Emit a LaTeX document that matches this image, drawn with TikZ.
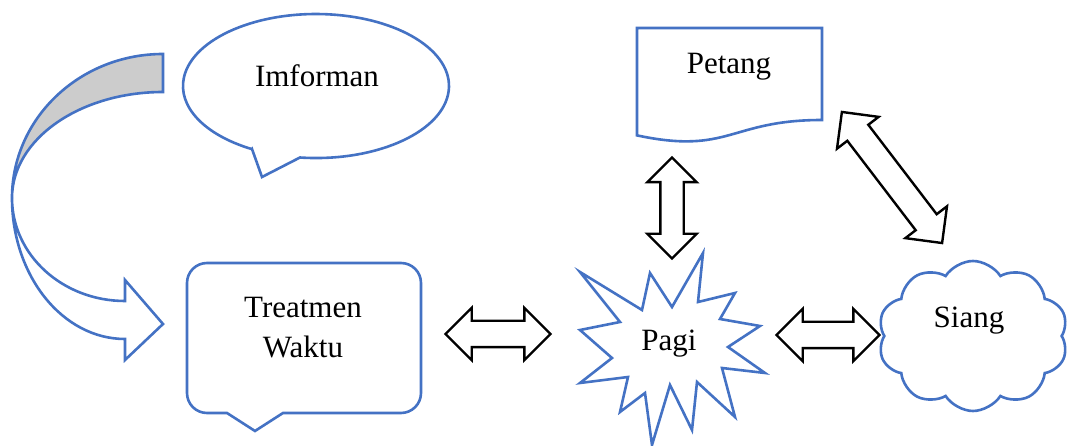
\documentclass[tikz,border=0pt]{standalone}
\usepackage{fontspec}
\setmainfont{Liberation Serif}
\usetikzlibrary{shapes.arrows,shapes.symbols}
\definecolor{wordblue}{HTML}{4472C4}

\begin{document}
\begin{tikzpicture}[x=1pt,y=-1pt,line join=miter]
	\tikzstyle{blob}=[draw=wordblue,line width=2.6pt,fill=white]
	\tikzstyle{dbl}=[double arrow,draw=black,line width=2.4pt,fill=white,inner xsep=0pt,minimum width=0pt,double arrow head extend=13pt]
	\tikzstyle{txt}=[font=\fontsize{31}{40}\selectfont,inner sep=0pt,align=center]
	\useasboundingbox (0,0) rectangle (1069,446);

	\draw[blob,fill=black!20] (163,54) arc[start angle=-90,end angle=-180,x radius=151,y radius=144]
		arc[start angle=180,end angle=270,x radius=151,y radius=106] -- cycle;
	\draw[blob] (12,198) arc[start angle=180,end angle=90,x radius=113,y radius=103]
		-- (125,280) -- (163,324) -- (125,360) -- (125,339)
		arc[start angle=90,end angle=180,x radius=113,y radius=141] -- cycle;

	\draw[blob] (252,149) -- (262,177) -- (300,157.5)
		arc[start angle=96.9,end angle=-241.2,x radius=133,y radius=72] -- cycle;
	\draw[blob] (227,413) -- (255,431) -- (283,413) -- (401,413) arc[start angle=90,end angle=0,radius=20]
		-- (421,283) arc[start angle=0,end angle=-90,radius=20]
		-- (207,263) arc[start angle=-90,end angle=-180,radius=20]
		-- (187,393) arc[start angle=180,end angle=90,radius=20] -- cycle;
	\draw[blob] (637,28) -- (822,28) -- (822,120) .. controls (729.5,120) and (729.5,155) .. (637,135.4) -- cycle;
	\draw[blob] (580,272) -- (642,310) -- (650,273) -- (672,307) -- (703,253) -- (698,302) -- (735,293)
		-- (720,319) -- (760,326) -- (728,347) -- (765,373) -- (722,368) -- (735,417) -- (697,382)
		-- (692,430) -- (670,385) -- (652,445) -- (645,393) -- (620,412) -- (628,377) -- (580,383)
		-- (612,358) -- (580,330) -- (620,322) -- cycle;
	\node[blob,cloud,cloud puffs=10,cloud puff arc=115,aspect=1.25,minimum width=190pt,minimum height=150pt,inner sep=0pt] (cloud) at (973,336) {};

	\foreach \name/\x/\y/\txt in {imforman/317/76/Imforman, treat/303/328/Treatmen\\Waktu, petang/729/67/Petang, pagi/669/344/Pagi, siang/969/321/Siang}
		\node[txt] (\name) at (\x,\y) {\txt};

	\foreach \name/\x/\y/\len/\sh/\ang in {tp/498/334/105/12/0, ps/828/335/103/12/0, vp/672/208/101/10.5/90, ds/892/177.5/165/12/-52.6}
		\node[dbl,minimum height=\len pt,inner ysep=\sh pt,rotate=\ang] (\name) at (\x,\y) {};
\end{tikzpicture}
\end{document}
